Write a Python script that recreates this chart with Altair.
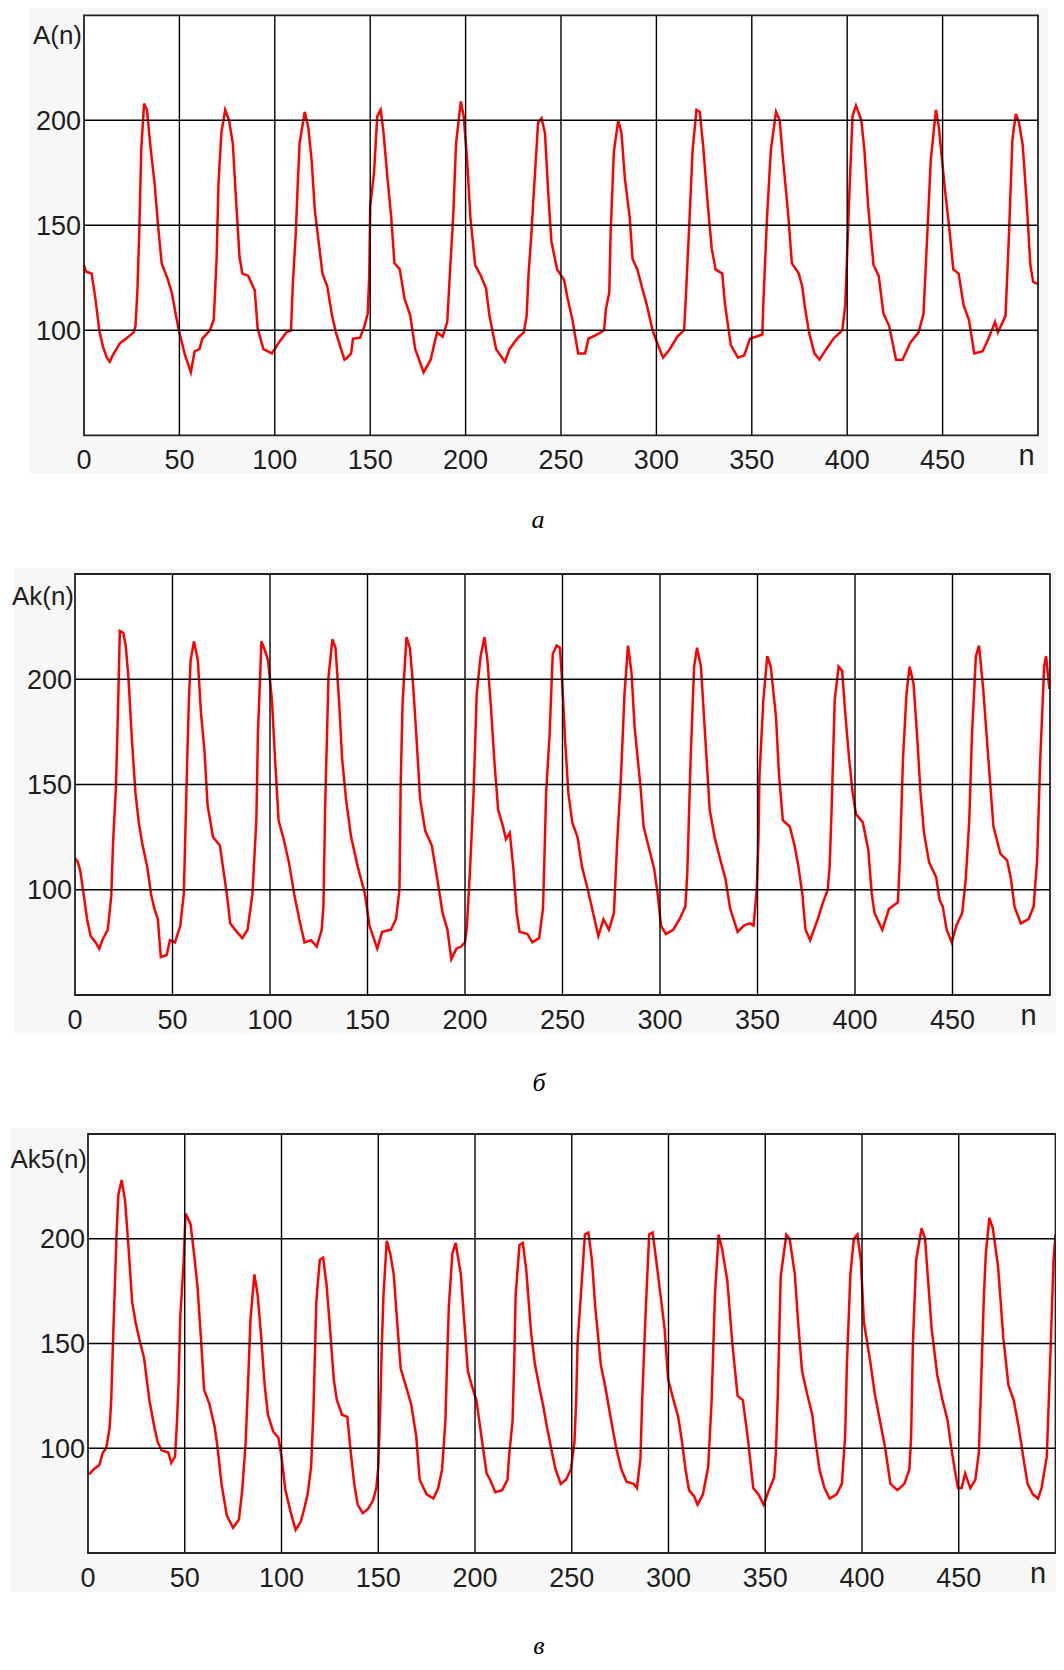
import altair as alt
import pandas as pd

# ---------------- data ----------------
n_A = [0, 1, 4, 6, 8, 10, 12, 13.5, 15, 17,
       19, 22, 26, 27, 28, 29, 30, 31.5, 33, 35,
       37, 39, 40.7, 44, 46, 48, 49.7, 53, 56, 58,
       60.5, 62, 66, 68, 69.5, 70.5, 72, 74, 76, 78,
       79.5, 81.5, 83, 86, 89.5, 91, 94, 98.5, 102, 106,
       108.5, 109.5, 111, 112, 113, 115.7, 117.5, 119.3, 121, 123,
       125, 127.5, 130, 132, 136.5, 138, 140, 141, 144.7, 147,
       148.7, 149.5, 150, 152, 153.7, 155.5, 157, 159, 161, 162.7,
       165.5, 168, 171, 173.6, 178, 181.7, 185, 188, 190.4, 191.7,
       193.5, 195, 197.5, 199, 200.8, 202.5, 205, 208, 210.7, 212.5,
       216, 220.6, 223, 227, 230.5, 232, 233, 234.5, 235.5, 236.8,
       238, 239.8, 241.6, 243.4, 245, 248, 251.6, 253.5, 256, 259,
       262.6, 264.4, 269, 272.6, 273.5, 275.3, 276, 277.7, 280, 281.7,
       283.5, 286, 287.5, 290, 292.6, 295, 298, 300.8, 303.5, 307,
       311, 314.5, 315.4, 317, 319, 321, 322.7, 324.5, 327, 329,
       331, 334.5, 336, 339, 342.7, 346, 349, 355.5, 356, 358,
       360, 362.7, 364.6, 366.4, 369, 371, 374.6, 376.4, 378, 380,
       382.8, 385.5, 389, 392.8, 397.4, 399, 401, 402.8, 404.6, 407.4,
       409, 411, 413.8, 416.5, 419, 422, 425.6, 429, 433, 437.4,
       440, 442, 443.8, 446.5, 448, 451, 453.8, 455.6, 458.4, 461,
       463.8, 466.6, 471, 474, 477.5, 479, 483, 484.8, 486.6, 488.4,
       490, 492, 494, 496, 497.5, 500]
A = [131, 128, 127, 115, 100, 92, 87, 85, 88, 91,
     94, 96, 99, 102, 119, 148, 186, 208, 205, 186,
     170, 148, 132, 124, 118, 108, 100, 88, 80, 90,
     91, 96, 100, 105, 134, 170, 194, 205, 200, 189,
     165, 135, 127, 126, 119, 101, 91, 89, 94, 99,
     100, 123, 146, 169, 189, 204, 197, 181, 157, 142,
     127, 121, 107, 99, 86, 87, 89, 96, 96.5, 102,
     108, 126, 159, 175, 202, 205, 194, 173, 154, 132,
     129, 115, 107, 91, 80, 86, 99, 97, 104, 126,
     154, 189, 209, 202, 181, 154, 131, 126, 120, 107,
     91, 85, 91, 96, 99, 107, 127, 146, 162, 181,
     199, 201, 194, 164, 142, 129, 124, 115, 105, 89,
     89, 96, 98, 100, 110, 118, 146, 185, 200, 194,
     172, 154, 134, 129, 120, 112, 100, 93, 87, 91,
     97, 100, 115, 146, 186, 205, 204, 188, 159, 139,
     129, 127, 112, 93, 87, 88, 96, 98, 112, 154,
     186, 204, 200, 181, 156, 132, 127, 121, 110, 99,
     89, 86, 91, 96, 100, 112, 162, 202, 207, 200,
     186, 159, 131, 126, 108, 102, 86, 86, 94, 99,
     108, 146, 181, 205, 197, 169, 146, 129, 127, 112,
     105, 89, 90, 96, 104, 99, 107, 146, 191, 203,
     199, 188, 162, 131, 123, 122]

n_Ak = [0, 1.5, 2.7, 4.4, 6.2, 8, 10.6, 12.4, 14, 16.8,
        18.6, 19.5, 21, 22, 23, 24.8, 26, 27.4, 29.2, 31,
        32.7, 34.5, 37, 39, 40.7, 42.5, 44, 47, 48.7, 51.3,
        54, 55.8, 56.6, 57.5, 58.4, 59.3, 61, 63, 64.6, 66.4,
        68, 70.8, 74.3, 76, 78, 79.6, 83, 85.8, 88.5, 91,
        93, 93.8, 95.6, 97.3, 99, 101, 102.6, 104.4, 107, 109.7,
        112.4, 115, 117.7, 121, 124, 126.5, 127.4, 128.3, 130, 132,
        133.6, 135.4, 137, 139, 141.6, 145, 148.7, 151, 155, 157.5,
        162, 164.6, 166.4, 167, 168, 170, 171.7, 173.5, 175, 177,
        179.6, 183, 185.8, 188.5, 191, 193, 195.6, 198, 200, 201,
        202.6, 204.4, 206, 208, 210, 211.5, 213.3, 215, 217, 219.5,
        221, 223, 224.8, 226.5, 228, 232, 234.5, 238, 240, 240.7,
        241.6, 243.4, 245, 247, 248.7, 250, 251.4, 253, 255, 257.7,
        260, 263, 265.7, 268.4, 271, 273.8, 276.4, 278, 280, 281.8,
        283.6, 285.4, 287, 290, 291.6, 294, 297, 298.8, 300.5, 303,
        306.8, 310, 313, 314, 315.7, 317.5, 319, 321, 322.9, 325.5,
        328, 331, 333.6, 336, 339.8, 343, 346, 348, 349.6, 350.5,
        351, 353, 355, 356.8, 359.5, 361, 363, 366.6, 369, 371,
        373, 374.6, 377, 380.9, 383.6, 386, 387, 388, 389.6, 391.6,
        393.4, 395, 397, 398.8, 400.5, 404, 406.8, 408.6, 410, 414,
        417.5, 422, 423, 424.6, 426.4, 428, 430, 431.8, 433.6, 435.4,
        438, 441.6, 443.4, 445, 447, 449.6, 452, 455, 456.8, 458.6,
        460, 462, 463.6, 465.7, 468.4, 471, 474.6, 478, 480, 481.8,
        485, 489, 491.6, 493.4, 495, 497, 498, 499.6, 500]
Ak = [115, 113, 109, 98, 86, 78, 75, 72, 76, 81,
      97, 122, 149, 184, 223, 222, 216, 201, 171, 146,
      132, 122, 111, 98, 91, 86, 68, 69, 76, 75,
      83, 98, 127, 160, 190, 209, 218, 209, 184, 166,
      140, 125, 121, 110, 97, 84, 80, 77, 81, 98,
      133, 174, 218, 214, 209, 190, 162, 133, 124, 113,
      98, 86, 75, 76, 73, 81, 92, 140, 201, 219,
      215, 190, 162, 143, 125, 111, 98, 83, 72, 80,
      81, 86, 100, 149, 189, 220, 215, 196, 174, 143,
      128, 121, 105, 89, 81, 67, 72, 73, 75, 83,
      110, 146, 193, 211, 220, 209, 187, 162, 138, 130,
      124, 127, 110, 89, 80, 79, 75, 77, 91, 114,
      146, 174, 212, 216, 215, 196, 170, 146, 132, 125,
      111, 100, 89, 78, 86, 81, 89, 122, 154, 193,
      216, 203, 177, 149, 130, 121, 110, 98, 83, 79,
      81, 86, 92, 108, 162, 206, 215, 206, 177, 138,
      125, 114, 105, 91, 80, 83, 84, 83, 100, 124,
      154, 190, 211, 206, 182, 155, 133, 130, 121, 111,
      98, 81, 76, 86, 94, 100, 111, 138, 190, 206,
      204, 184, 162, 146, 136, 132, 119, 98, 89, 81,
      91, 94, 114, 162, 193, 206, 198, 174, 146, 127,
      113, 106, 95, 92, 81, 75, 83, 89, 105, 133,
      174, 211, 216, 196, 162, 130, 117, 114, 105, 92,
      84, 86, 92, 114, 162, 206, 211, 196, 196]

n_Ak5 = [0, 1, 3, 5.9, 7.7, 9.4, 11.2, 12, 13, 14.8,
         15.7, 17.4, 19.2, 21, 22.8, 24.6, 26.3, 29, 31.7, 34.3,
         36, 38, 41.5, 43, 45, 46, 46.8, 47.7, 49.5, 50.4,
         53, 54.8, 56.6, 58.4, 60, 62.8, 65.5, 67, 69, 71.7,
         75, 78, 79.7, 81.5, 82.7, 84, 86, 87.7, 89.5, 91.3,
         93, 95.7, 98.4, 100, 102, 104.6, 107.3, 110, 111.7, 113.5,
         115.3, 116.5, 118, 119.8, 121.5, 123.3, 125, 127, 128.6, 131.3,
         134, 135.8, 137.6, 139.4, 142, 144.7, 147.3, 149, 150, 150.9,
         151.8, 152.7, 154.4, 156.2, 158, 159.8, 161.6, 164.2, 167, 169.6,
         171.4, 175, 178.5, 181, 183, 184.7, 185.6, 186.5, 188.3, 190,
         192.7, 194.5, 196.3, 198, 200.7, 203.4, 206, 207.8, 210.5, 214,
         216.8, 217.6, 219.4, 220.3, 221, 223, 224.7, 226.5, 229, 231,
         233.5, 235.3, 237, 239.8, 241.6, 244.3, 247, 249.6, 251.4, 252.3,
         253, 255, 256.8, 258.6, 260.4, 262.2, 265, 267.6, 270, 273,
         275.6, 278.3, 282, 283.7, 285.5, 286.4, 288.2, 290, 291.8, 293.6,
         296.3, 298, 299.8, 302.6, 305, 307, 308.8, 310.6, 313.3, 315,
         317.8, 320.5, 322.3, 324, 325.9, 327.7, 330.4, 333, 335.7, 338.4,
         341, 343.8, 346.5, 349.2, 351.9, 354.6, 355.5, 356.4, 358, 360.9,
         362.6, 365.3, 367, 369, 371.6, 374.3, 376, 378, 380.6, 383.3,
         386.9, 389.6, 391.3, 392.2, 394, 395.8, 397.6, 399.4, 401, 404,
         406.6, 409.3, 412, 414.7, 418.3, 421.9, 424.5, 425.4, 426.3, 428,
         430.8, 432.6, 434.4, 436, 438.9, 441.6, 444.3, 446, 447.9, 449.6,
         451.5, 453.3, 456, 458.6, 460.4, 461.3, 463, 464, 465.8, 467.6,
         470.3, 473, 475.7, 478.4, 481, 483.8, 485.6, 488.3, 491, 492.8,
         495.5, 497.2, 499, 500]
Ak5 = [88, 88, 90, 92, 98, 100, 110, 123, 153, 203,
       221, 228, 218, 195, 170, 160, 153, 143, 123, 110,
       103, 99, 98, 93, 96, 113, 131, 163, 190, 212,
       207, 193, 177, 152, 128, 121, 110, 100, 83, 68,
       62, 66, 80, 103, 131, 162, 183, 173, 153, 130,
       116, 108, 105, 96, 80, 70, 61, 65, 71, 78,
       91, 118, 170, 190, 191, 178, 158, 133, 123, 116,
       115, 98, 83, 73, 69, 71, 75, 81, 91, 115,
       148, 173, 199, 193, 183, 160, 138, 130, 121, 106,
       85, 78, 76, 81, 90, 113, 142, 168, 193, 198,
       183, 160, 137, 131, 123, 105, 88, 85, 79, 80,
       85, 96, 113, 142, 173, 197, 198, 185, 155, 140,
       128, 120, 111, 98, 90, 83, 85, 90, 103, 123,
       150, 177, 202, 203, 190, 167, 140, 128, 115, 100,
       90, 84, 83, 81, 95, 123, 165, 202, 203, 190,
       170, 157, 133, 123, 115, 103, 90, 80, 77, 73,
       78, 91, 123, 173, 202, 195, 180, 150, 125, 123,
       105, 81, 78, 73, 80, 86, 98, 123, 182, 202,
       200, 183, 160, 137, 126, 116, 103, 90, 81, 76,
       78, 83, 106, 140, 183, 200, 202, 190, 160, 143,
       126, 113, 100, 83, 80, 83, 90, 106, 150, 190,
       205, 200, 177, 157, 135, 123, 113, 101, 90, 81,
       81, 88, 81, 85, 98, 123, 173, 193, 210, 205,
       187, 153, 130, 123, 110, 93, 83, 78, 76, 81,
       96, 140, 190, 202]

X_TICKS = [0, 50, 100, 150, 200, 250, 300, 350, 400, 450]
X_GRID = [50, 100, 150, 200, 250, 300, 350, 400, 450]
Y_TICKS = [100, 150, 200]
Y_TITLES = ["A(n)", "Ak(n)", "Ak5(n)"]
CAPTIONS = ["а", "б", "в"]
N_LABEL = "n"

FONT = "Liberation Sans"
SERIF = "Liberation Serif"
TXT = "#1e1e1e"

CW, CH = 1048, 1654   # whole drawing area (page origin at 8,8)

# plot boxes (left, right, top, bottom) and decoration per panel
GEO = [
    dict(box=(76, 1030, 7.3, 427.3), gray=(21, 1040, 0, 465),
         tx=-2, ty=28.7, nx=494, cap=(530, 520)),
    dict(box=(67, 1042, 566, 987), gray=(7, 1048, 560, 1026),
         tx=-1, ty=31, nx=489, cap=(531, 1083)),
    dict(box=(80, 1047.5, 1126, 1545), gray=(2, 1048, 1120, 1584),
         tx=-1, ty=34, nx=491, cap=(531, 1646)),
]

one = pd.DataFrame({"k": [0]})


def vrect(x1, x2, y1, y2, **kw):
    return alt.Chart(one).mark_rect(**kw).encode(
        x=alt.value(x1), x2=alt.value(x2), y=alt.value(y1), y2=alt.value(y2))


def panel(ns, vals, title, caption, g):
    L, R, T, B = g["box"]
    xs = alt.Scale(domain=[0, 500], range=[L, R], nice=False, zero=False)
    ys = alt.Scale(domain=[50, 250], range=[B, T], nice=False, zero=False)

    def X(f):
        return alt.X(f, scale=xs, axis=None)

    def Y(f):
        return alt.Y(f, scale=ys, axis=None)

    gx1, gx2, gy1, gy2 = g["gray"]
    gray = vrect(gx1, gx2, gy1, gy2, fill="#f7f7f7", strokeWidth=0)
    plotbg = vrect(L, R, T, B, fill="white", strokeWidth=0)

    df = pd.DataFrame({"n": ns, "v": vals})
    line = alt.Chart(df).mark_line(color="#ff0000", strokeWidth=2.5).encode(
        x=X("n:Q"), y=Y("v:Q"))

    xgrid = alt.Chart(pd.DataFrame({"g": X_GRID})).mark_rule(
        color="#000", strokeWidth=1.4).encode(
        x=X("g:Q"), y=alt.value(T), y2=alt.value(B))
    ygrid = alt.Chart(pd.DataFrame({"h": Y_TICKS})).mark_rule(
        color="#000", strokeWidth=1.4).encode(
        y=Y("h:Q"), x=alt.value(L), x2=alt.value(R))

    border = vrect(L, R, T, B, fillOpacity=0, stroke="#222", strokeWidth=1.8)

    # tick labels, drawn through the panel's own scales
    xlab = alt.Chart(pd.DataFrame({"t": X_TICKS, "s": [str(v) for v in X_TICKS]})
                     ).mark_text(font=FONT, fontSize=27, color=TXT, align="center",
                                 baseline="alphabetic").encode(
        x=X("t:Q"), y=alt.value(B + 33.5), text="s:N")
    ylab = alt.Chart(pd.DataFrame({"t": Y_TICKS, "s": [str(v) for v in Y_TICKS]})
                     ).mark_text(font=FONT, fontSize=27, color=TXT, align="right",
                                 baseline="alphabetic", dy=9.6).encode(
        y=Y("t:Q"), x=alt.value(L - 3), text="s:N")
    ytitle = alt.Chart(pd.DataFrame({"t": [title]})).mark_text(
        font=FONT, fontSize=26, color=TXT, align="right", baseline="alphabetic"
    ).encode(x=alt.value(L + g["tx"]), y=alt.value(T + g["ty"]), text="t:N")

    nlab = alt.Chart(pd.DataFrame({"n": [g["nx"]], "t": [N_LABEL]})).mark_text(
        font=FONT, fontSize=29, color=TXT, align="center", baseline="alphabetic"
    ).encode(x=X("n:Q"), y=alt.value(B + 30), text="t:N")

    cx, cy = g["cap"]
    cap = alt.Chart(pd.DataFrame({"t": [caption]})).mark_text(
        font=SERIF, fontStyle="italic", fontSize=26, color="#000",
        align="center", baseline="alphabetic"
    ).encode(x=alt.value(cx), y=alt.value(cy), text="t:N")

    return alt.layer(gray, plotbg, line, xgrid, ygrid, border,
                     xlab, ylab, ytitle, nlab, cap)


p1 = panel(n_A, A, Y_TITLES[0], CAPTIONS[0], GEO[0])
p2 = panel(n_Ak, Ak, Y_TITLES[1], CAPTIONS[1], GEO[1])
p3 = panel(n_Ak5, Ak5, Y_TITLES[2], CAPTIONS[2], GEO[2])

chart = alt.layer(p1, p2, p3).resolve_scale(
    x="independent", y="independent"
).properties(
    width=CW, height=CH, padding=0,
    autosize=alt.AutoSizeParams(type="none"),
).configure_view(stroke=None)

chart.save("out.html", embed_options={"renderer": "svg", "actions": False})
